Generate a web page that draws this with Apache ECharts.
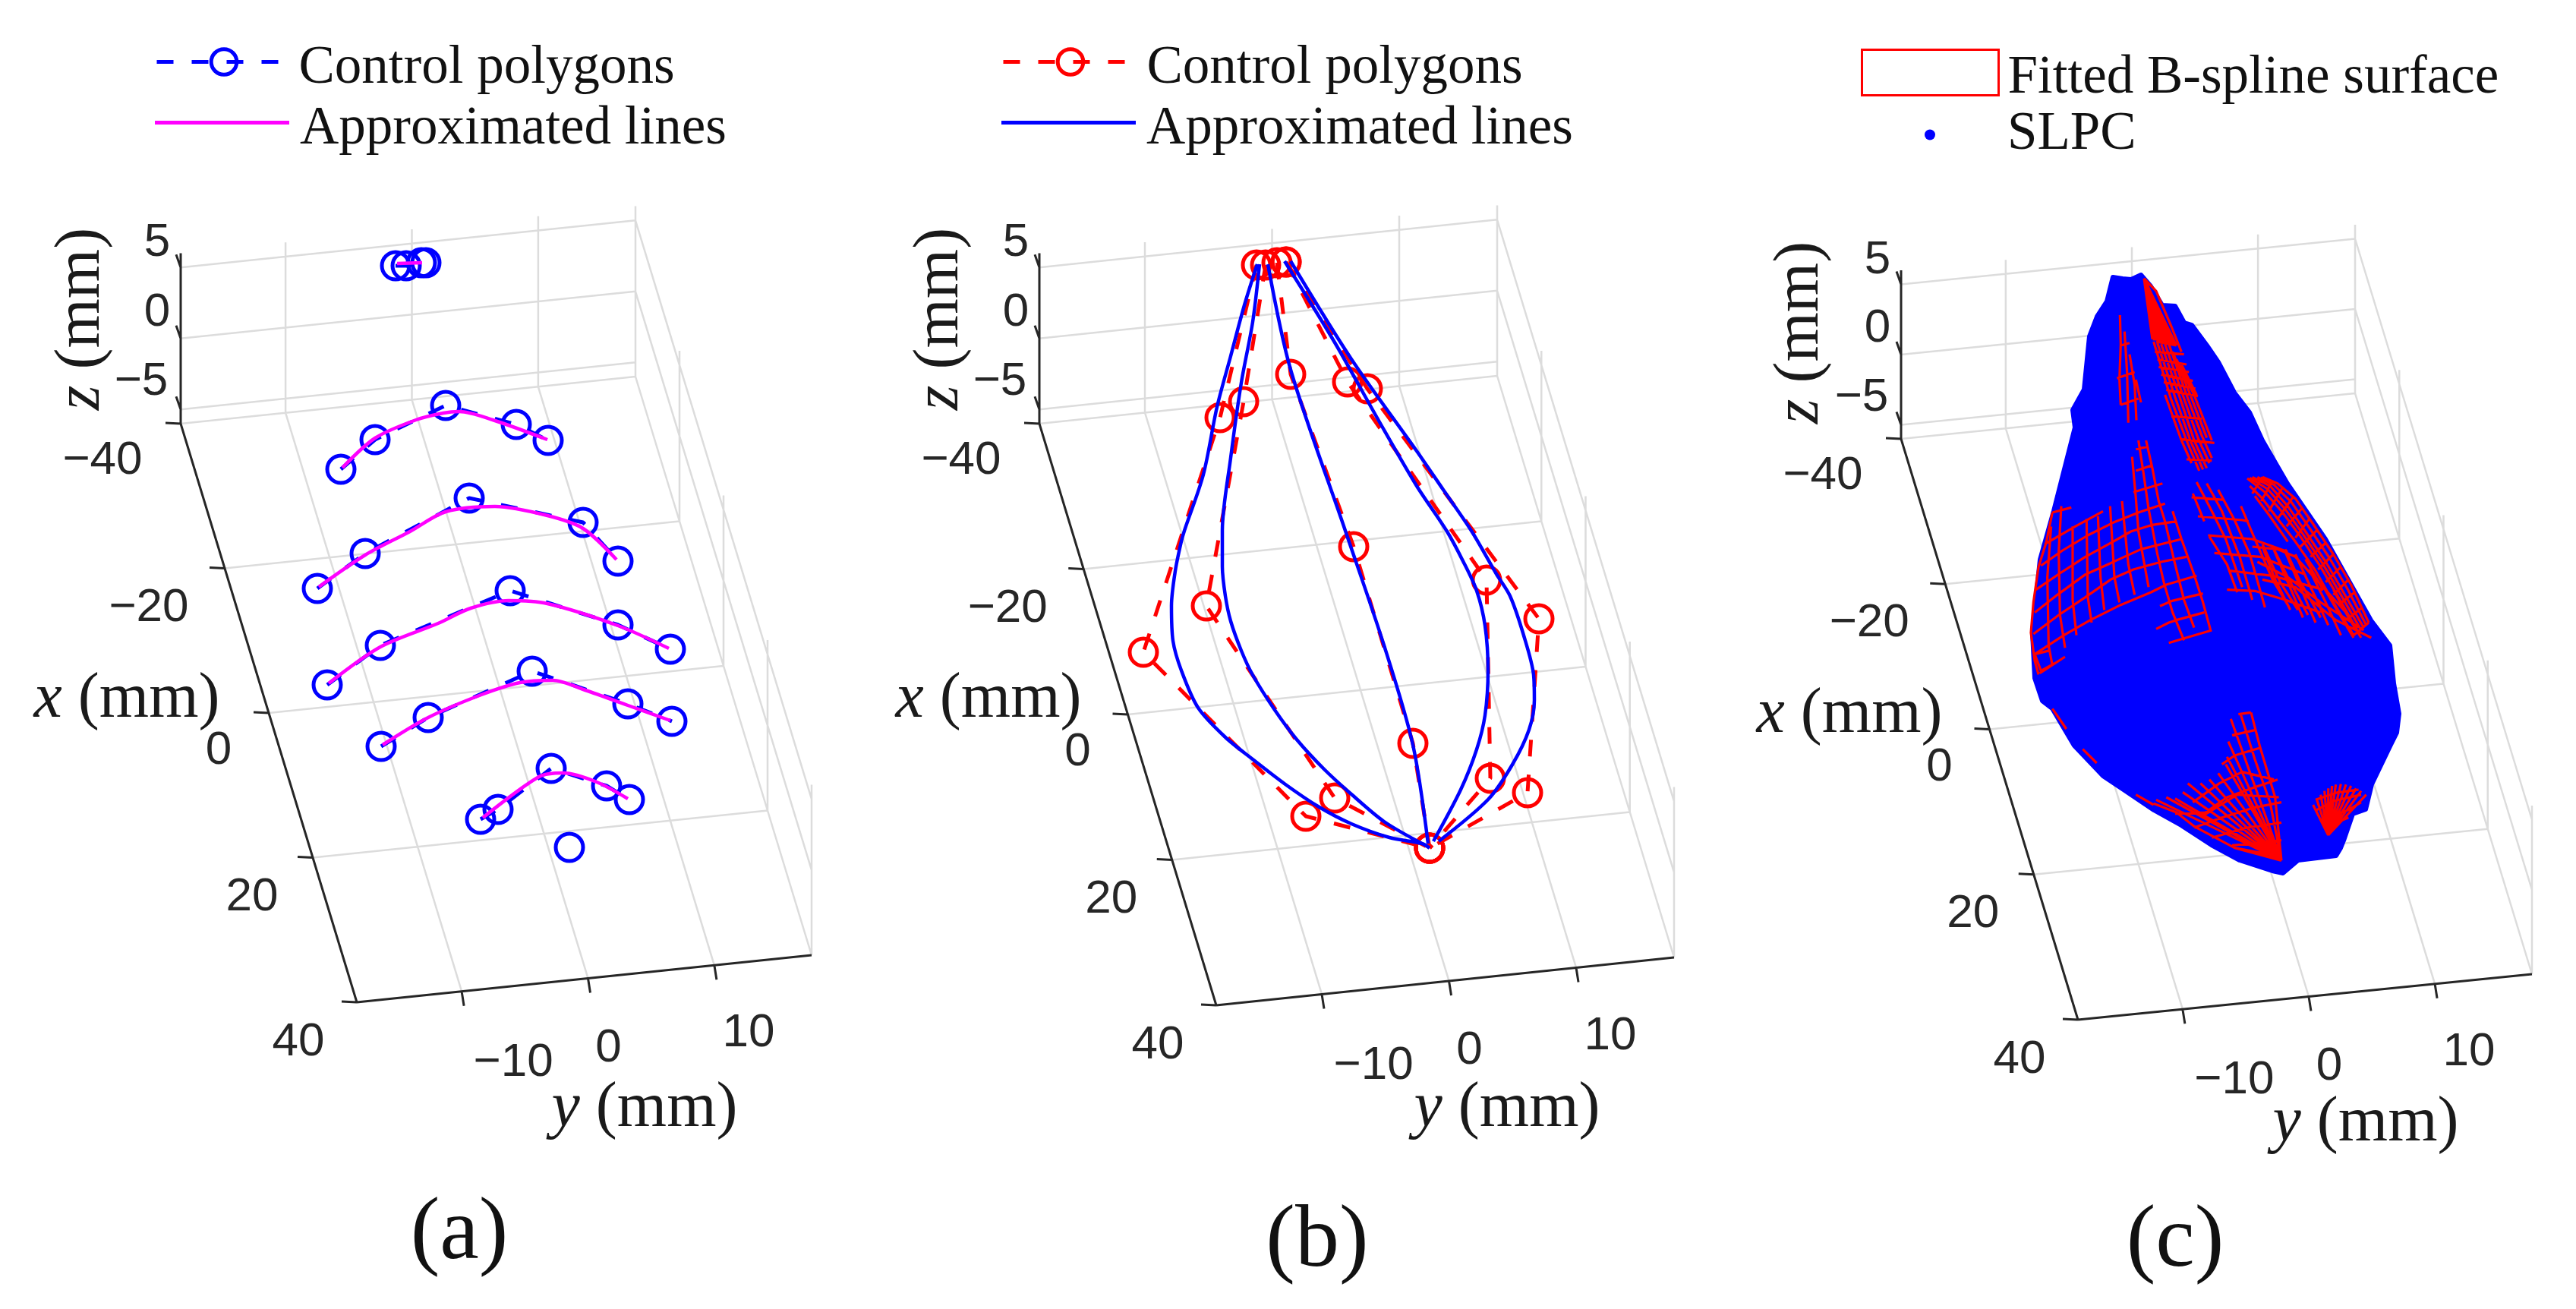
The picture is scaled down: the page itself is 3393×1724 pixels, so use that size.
<!DOCTYPE html>
<html><head><meta charset="utf-8">
<style>html,body{margin:0;padding:0;background:#fff}#c{width:3393px;height:1724px}</style>
<script src="https://cdn.jsdelivr.net/npm/echarts@6/dist/echarts.min.js"></script>
</head><body><div id="c"></div>
<script>
// ---- axis ticks (mm)
const xTicks = [-40, -20, 0, 20, 40];
const yTicks = [-10, 0, 10];
const zTicks = [-5, 0, 5];
const panelNames = ['(a)', '(b)', '(c)'];

// ---- panel (a): values read in the view plane of the panel
const polygonsA = [
  [[521,350],[535,350],[555,346],[561,346]],
  [[449,618],[494,579],[587,534],[680,559],[722,580]],
  [[418,775],[481,729],[618,656],[768,688],[814,739]],
  [[431,902],[501,850],[672,778],[814,823],[883,855]],
  [[502,983],[564,945],[701,884],[827,927],[885,950]],
  [[633,1079],[656,1066],[726,1012],[799,1035],[829,1053]],
  [[750,1116]]
];
const curvesA = [
  [[523,347],[556,346]],
  [[451,616],[494,577],[548,553],[584,544],[605,542],[649,553],[721,579]],
  [[420,773],[481,731],[540,700],[587,674],[652,667],[721,679],[768,696],[812,737]],
  [[433,900],[501,852],[577,821],[620,801],[670,791],[721,795],[814,824],[881,854]],
  [[504,981],[564,945],[634,915],[685,899],[728,896],[771,909],[827,929],[883,949]],
  [[636,1077],[710,1023],[742,1018],[786,1030],[827,1052]]
];

// ---- panel (b)
const polygonsB = [
  [[524,349],[476,550],[375,859],[589,1075],[752,1117]],
  [[536,349],[507,529],[458,798],[627,1051],[752,1117]],
  [[551,346],[569,493],[652,720],[730,979],[752,1117]],
  [[563,345],[644,503],[827,764],[832,1025],[752,1117]],
  [[563,345],[670,512],[896,815],[881,1044],[752,1117]]
];
const curvesB = [
  [[525,348],[508,402],[490,469],[472,536],[454,625],[429,699],[425,713],[417,752],[412,798],[414,844],[425,883],[447,932],[483,971],[519,1000],[562,1033],[605,1062],[649,1085],[699,1103],[742,1111],[752,1117]],
  [[528,348],[519,424],[504,504],[490,603],[479,699],[479,746],[483,785],[490,818],[504,857],[519,889],[548,935],[577,974],[613,1013],[649,1046],[692,1082],[742,1111]],
  [[539,348],[569,487],[641,699],[692,850],[730,981],[750,1111]],
  [[561,344],[627,451],[685,554],[735,640],[775,700],[796,739],[814,778],[825,824],[829,883],[825,942],[814,987],[793,1040],[757,1108]],
  [[569,344],[649,473],[735,594],[770,645],[807,699],[840,756],[858,785],[876,837],[889,889],[890,922],[883,961],[861,1007],[829,1053],[764,1108]]
];

// ---- panel (c): outline of the dense SLPC cloud
const slpcOutline = [
  [521,365],[534,367],[545,368],[558,362],[571,377],[586,402],[603,403],[615,425],[625,428],[645,455],[660,477],
  [681,517],[701,543],[718,580],[751,637],[801,710],[861,817],[886,850],[891,900],[898,940],[895,965],[887,981],
  [862,1033],[854,1066],[837,1072],[825,1107],[821,1117],[815,1127],[765,1133],[745,1150],[731,1147],[688,1133],
  [651,1113],[611,1087],[575,1067],[535,1040],[508,1022],[470,982],[441,933],[428,923],[418,893],[415,833],[425,737],
  [443,673],[471,563],[468,540],[483,513],[490,443],[500,417],[513,397]
];
const meshNarrow = [
  [[517,225],[520,340],[515,480],[520,580]],[[535,290],[545,450],[550,650]],[[555,380],[575,500],[582,640]],[[580,480],[600,570]],
  [[520,345],[555,335]],[[505,475],[575,450]],[[520,580],[590,555]]
];
const meshStripe = [
  [[612,80],[645,320]],[[612,80],[652,325]],[[612,80],[660,325]],[[612,80],[668,330]],[[612,80],[676,330]],[[612,80],[684,335]],
  [[612,80],[692,335]],[[612,80],[700,340]],[[612,80],[708,340]],[[612,80],[716,340]],[[612,80],[724,342]],[[612,80],[732,345]],[[612,80],[740,345]],
  [[612,80],[660,130],[720,270],[760,370]],
  [[660,330],[740,345]],[[655,370],[770,380]],[[665,400],[780,420]],[[670,430],[790,450]],[[680,460],[805,485]],[[690,490],[815,515]],[[700,520],[825,545]],
  [[720,625],[840,635]],[[755,715],[890,730]],[[780,795],[880,800]],
  [[650,330],[720,560],[780,720],[830,840]],[[665,335],[735,550],[795,720],[845,835]],[[680,340],[750,540],[810,720],[860,830]],[[695,340],[765,540],[825,710],[870,810]],
  [[710,340],[780,540],[840,700],[880,790]],[[725,370],[795,540],[860,710]],[[740,400],[810,540],[880,720]],[[695,540],[760,720],[800,810]],[[760,420],[820,540]]
];
const meshLeft = [
  [[130,345],[205,325]],
  [[100,470],[220,400],[330,340]],
  [[85,555],[170,495],[270,435],[370,385],[470,345],[575,310]],
  [[65,650],[160,585],[260,520],[370,460],[440,420],[520,395],[620,380]],
  [[60,740],[150,670],[260,590],[360,545],[480,490],[640,450]],
  [[55,825],[155,750],[260,680],[360,610],[450,570],[560,540],[660,520]],
  [[60,905],[175,830],[280,770],[400,710],[520,660],[580,630],[700,595]],
  [[80,980],[180,915]],
  [[600,695],[725,665]],[[555,715],[600,695]],[[620,770],[730,740]],[[590,860],[640,845],[760,810]],[[540,805],[590,780],[620,770]],
  [[450,265],[565,230]],[[460,180],[520,160]],[[460,95],[505,85]],
  [[130,345],[105,465],[75,560],[55,700],[45,820],[60,930],[75,985]],
  [[125,400],[110,600],[115,870],[130,950]],[[165,320],[155,500],[160,750],[180,880]],[[210,400],[210,690],[225,830]],
  [[265,370],[270,680],[285,780]],[[310,360],[320,600],[335,730]],[[358,320],[375,600],[395,700]],[[405,300],[430,550],[455,670]],
  [[445,125],[460,290],[470,420],[510,640]],
  [[470,60],[490,190],[510,330],[545,510],[570,620],[605,740],[650,850]],
  [[500,60],[525,170],[550,300],[575,380],[610,530],[650,690],[690,800]],
  [[605,340],[640,450],[690,590],[725,700],[755,810]]
];
const meshMiddle = [
  [[680,285],[810,295]],[[705,360],[880,375],[905,380]],[[745,435],[920,450],[1060,500]],[[770,505],[950,520],[1130,590]],[[830,575],[1000,595],[1200,650]],[[820,650],[930,655],[1050,690],[1190,740]],
  [[700,225],[760,340],[815,450],[880,640]],[[740,230],[800,340],[870,520],[920,690]],[[785,255],[850,375],[910,510],[970,720]],
  [[685,270],[730,380]],[[750,440],[820,550],[860,660]],[[875,320],[930,450],[1000,610],[1060,710]],[[960,470],[1030,620],[1100,730]],
  [[1000,480],[1060,600],[1140,750]],[[1050,490],[1110,620],[1190,760]],[[1090,510],[1150,640],[1200,740]],[[1130,530],[1200,650]]
];
const meshBand = [
  [[0,205],[60,230],[130,290],[200,390],[280,510],[350,630],[420,780]],
  [[-20,205],[45,235],[115,305],[185,405],[265,525],[335,645],[410,790]],
  [[-40,205],[30,240],[100,320],[170,420],[250,540],[320,660],[400,800]],
  [[-50,208],[20,252],[90,332],[160,430],[240,550],[310,670],[390,810]],
  [[-60,210],[10,265],[80,345],[150,440],[230,560],[300,680],[380,820]],
  [[-50,240],[0,290],[60,370],[130,460],[210,575],[280,700],[360,830]],
  [[-30,280],[30,360],[100,460]],
  [[0,205],[-40,270]],[[40,220],[-5,300]],[[80,245],[25,340]],[[120,285],[60,370]],[[155,330],[95,400]],[[185,370],[130,445]],[[215,415],[150,480]],
  [[250,465],[190,520]],[[280,510],[220,570]],[[310,560],[250,620]],[[340,610],[280,670]],[[365,660],[300,710]],[[395,720],[330,770]],[[420,780],[360,830]],
  [[-40,480],[60,490],[130,520],[240,640],[330,740]],[[0,610],[130,640],[290,770],[430,840]],[[-20,540],[100,600],[230,700],[400,810]],
  [[0,480],[50,610],[110,730]],[[40,480],[100,620],[160,760]],[[90,500],[150,640],[210,780]],[[135,520],[200,660],[260,790]],[[185,570],[250,700],[310,830]],[[230,620],[300,740],[360,840]],[[280,650],[340,760],[390,840]]
];
const fanApex = [1035,850];
const fanTips = [[540,610],[580,600],[615,605],[645,580],[665,545],[715,545],[750,530],[785,505],[815,470],[820,440],[825,380],[835,290]];
const meshFan = [
  [[875,275],[930,450],[990,620],[1035,850]],[[915,265],[950,400],[1010,600],[1035,850]],
  [[800,470],[850,435],[950,405]],[[685,620],[790,545],[880,500],[1005,530]],[[615,665],[735,660],[820,600],[930,560],[1020,530]],
  [[730,670],[860,590],[1025,600]],[[690,720],[800,680],[930,640],[1035,620]],[[760,760],[900,720],[1035,700]],[[840,790],[950,780],[1035,770]],
  [[840,355],[930,335]],[[865,272],[915,265]],
  [[530,625],[620,660],[690,715],[850,800],[1035,850]],[[850,800],[1035,835]],
  [[130,250],[185,330]],[[250,410],[305,465]],[[460,590],[530,630]],
  [[120,20],[60,35],[85,100],[140,70]]
];
const smallApex = [1220,750];
const smallTips = [[1160,630],[1175,610],[1190,590],[1205,575],[1220,565],[1235,555],[1250,550],[1270,548],[1290,550],[1310,555],[1330,565],[1350,575],[1370,590]];
const meshSmall = [
  [[1175,650],[1240,615],[1350,590]],[[1190,690],[1300,650],[1350,620]],[[1205,720],[1300,680]],[[1170,610],[1260,580],[1340,570]]
];

// ---- layout
const W = 1131, H = 1724;
const frames = [
  {left:0,    o:[238,558], xEnd:[470,1320], yEnd:[837,496], zs:18.7},
  {left:1131, o:[238,558], xEnd:[471,1324], yEnd:[841,495], zs:18.7},
  {left:2262, o:[242,578], xEnd:[475,1343], yEnd:[840,518], zs:18.5}
];
const titlePos = [
  {z:[108,420], x:[167,922], y:[849,1461], p:[605,1627]},
  {z:[108,420], x:[171,922], y:[854,1461], p:[604,1637]},
  {z:[110,438], x:[174,942], y:[854,1480], p:[603,1637]}
];
const xLblOff = [[-103,49],[-100,52],[-66,50],[-80,52],[-77,53]];
const yLblOff = [[68,94],[27,92],[45,90]];
const zLblOff = [[-52,-36],[-31,-34],[-31,-32]];
const Y0 = -18.3, Y1 = 17.7, Z0 = -6, Z1 = 6;

function proj(f, x, y, z) {
  const t = (x + 40) / 80, s = (y - Y0) / (Y1 - Y0), u = z - Z0;
  return [f.o[0] + t * (f.xEnd[0] - f.o[0]) + s * (f.yEnd[0] - f.o[0]),
          f.o[1] + t * (f.xEnd[1] - f.o[1]) + s * (f.yEnd[1] - f.o[1]) - u * f.zs];
}
const BR = ['-', '-'];
function breaks(lines) { const out = []; lines.forEach(l => { out.push(...l, BR); }); return out; }
function at(ox, oy, lines) { return lines.map(l => l.map(p => [ox + p[0] / 3, oy + p[1] / 3])); }

function grayLines(f) {
  const L = [], seg = (a, b) => L.push([proj(f, ...a), proj(f, ...b)]);
  yTicks.concat([Y1]).forEach(y => { seg([-40,y,Z0],[-40,y,Z1]); });
  yTicks.forEach(y => { seg([-40,y,Z0],[40,y,Z0]); });
  zTicks.forEach(z => { seg([-40,Y0,z],[-40,Y1,z]); });
  seg([-40,Y0,Z0],[-40,Y1,Z0]);
  [-20,0,20].forEach(x => { seg([x,Y0,Z0],[x,Y1,Z0]); seg([x,Y1,Z0],[x,Y1,Z1]); });
  seg([40,Y1,Z0],[40,Y1,Z1]);
  seg([-40,Y1,Z0],[40,Y1,Z0]); seg([-40,Y1,0],[40,Y1,0]); seg([-40,Y1,5],[40,Y1,5]);
  return L;
}
function blackLines(f) {
  const P = (x,y,z) => proj(f,x,y,z);
  const L = [[P(-40,Y0,Z0),P(-40,Y0,Z1)],[P(-40,Y0,Z0),P(40,Y0,Z0)],[P(40,Y0,Z0),P(40,Y1,Z0)]];
  const off = (p,d) => [p[0]+d[0],p[1]+d[1]];
  zTicks.forEach(z => { const p=P(-40,Y0,z); L.push([p,off(p,[-6,-17])]); });
  xTicks.forEach(x => { const p=P(x,Y0,Z0); L.push([p,off(p,[-20,-1])]); });
  yTicks.forEach(y => { const p=P(40,y,Z0); L.push([p,off(p,[3,19])]); });
  return L;
}
const tickFont = {fontFamily:'Liberation Sans', fontSize:62, color:'#262626', position:'inside', align:'center', verticalAlign:'middle', show:true, formatter:'{b}'};
const minus = v => String(v).replace('-', '\u2212');
function textItems(i) {
  const f = frames[i], T = titlePos[i], out = [];
  const put = (name, pos, lab) => out.push({name, value:pos, label:Object.assign({}, tickFont, lab)});
  xTicks.forEach((v,k) => { const p=proj(f,v,Y0,Z0); put(minus(v), [p[0]+xLblOff[k][0], p[1]+xLblOff[k][1]], {}); });
  yTicks.forEach((v,k) => { const p=proj(f,40,v,Z0); put(minus(v), [p[0]+yLblOff[k][0], p[1]+yLblOff[k][1]], {}); });
  zTicks.forEach((v,k) => { const p=proj(f,-40,Y0,v); put(minus(v), [p[0]+zLblOff[k][0], p[1]+zLblOff[k][1]], {}); });
  const rich = {i:{fontFamily:'Liberation Serif',fontStyle:'italic',fontSize:84,color:'#1a1a1a'}, r:{fontFamily:'Liberation Serif',fontSize:84,color:'#1a1a1a'}};
  const title = (a, pos, rot) => put(a+' (mm)', pos, {formatter:'{i|'+a+'}{r| (mm)}', rich, rotate:rot, fontFamily:'Liberation Serif', fontSize:84});
  title('x', T.x, 0); title('y', T.y, 0); title('z', T.z, 90);
  put(panelNames[i], T.p, {fontFamily:'Liberation Serif', fontSize:116, color:'#111'});
  return out;
}

const series = [];
const onGrid = i => ({xAxisIndex:i, yAxisIndex:i});
const plainLine = (i, o) => Object.assign({type:'line', symbol:'none', clip:false, silent:true, animation:false, connectNulls:false}, onGrid(i), o);

frames.forEach((f,i) => {
  series.push(plainLine(i, {name:'frame '+i, z:1, data:breaks(grayLines(f)), lineStyle:{color:'#dcdcdc', width:2.5}}));
  series.push(plainLine(i, {name:'axes '+i, z:2, data:breaks(blackLines(f)), lineStyle:{color:'#262626', width:3}}));
});

// panel a
series.push(plainLine(0, {name:'Control polygons a', z:3, data:breaks(polygonsA), symbol:'circle', symbolSize:36,
  itemStyle:{color:'transparent', borderColor:'#0000ff', borderWidth:5}, lineStyle:{color:'#0000ff', width:5, type:[22,24]}}));
series.push(plainLine(0, {name:'Approximated lines a', z:4, data:breaks(curvesA), smooth:0.3, lineStyle:{color:'#ff00ff', width:4.5}, itemStyle:{color:'#ff00ff'}}));
// panel b
series.push(plainLine(1, {name:'Control polygons b', z:3, data:breaks(polygonsB), symbol:'circle', symbolSize:36,
  itemStyle:{color:'transparent', borderColor:'#ff0000', borderWidth:5}, lineStyle:{color:'#ff0000', width:5, type:[22,24]}}));
series.push(plainLine(1, {name:'Approximated lines b', z:4, data:breaks(curvesB), smooth:0.3, lineStyle:{color:'#0000ff', width:4.5}, itemStyle:{color:'#0000ff'}}));
// panel c
series.push({type:'custom', name:'SLPC', coordinateSystem:'cartesian2d', xAxisIndex:2, yAxisIndex:2, z:3, silent:true, animation:false, clip:false,
  data:slpcOutline, encode:{x:0,y:1}, itemStyle:{color:'#0000ff'},
  renderItem:(p, api) => p.dataIndex === 0 ? {type:'polygon', shape:{points:slpcOutline.map(q => api.coord(q))}, style:{fill:'#0000ff', stroke:'#0000ff', lineWidth:6, lineJoin:'round'}} : null});
const meshAll = [].concat(
  at(358,340,meshNarrow), at(358,340,meshStripe), at(398,560,meshLeft), at(398,560,meshMiddle), at(718,560,meshBand),
  at(398,850,meshFan), at(398,850,fanTips.map(t=>[fanApex,t])), at(398,850,meshSmall), at(398,850,smallTips.map(t=>[smallApex,t])));
series.push(plainLine(2, {name:'Fitted B-spline surface', z:4, data:breaks(meshAll), lineStyle:{color:'#ff0000', width:3.2}, itemStyle:{color:'#ff0000'}}));

frames.forEach((f,i) => series.push({type:'scatter', name:'text '+i, ...onGrid(i), z:6, symbolSize:0, silent:true, animation:false, clip:false, itemStyle:{opacity:1}, data:textItems(i)}));

const legendStrip = n => '{s|' + n.replace(/ [ab]$/, '') + '}';
const legendRow = (left, cy, name, drop, textLeft, extra) => Object.assign({
  left, top:cy-(80+drop)/2, selectedMode:false, padding:0, itemWidth:177, itemHeight:42, formatter:legendStrip,
  lineStyle:{width:5}, itemStyle:{borderWidth:5},
  textStyle:{padding:[0,0,0,textLeft], rich:{s:{fontFamily:'Liberation Serif', fontSize:71, color:'#111', lineHeight:80, padding:[drop,0,0,0]}}},
  data:[name]}, extra||{});
const solidIcon = (name,color) => [{name, icon:'rect', itemStyle:{color, borderWidth:0}}];
const chart = echarts.init(document.getElementById('c'), null, {renderer:'canvas'});
chart.setOption({
  backgroundColor:'#fff', animation:false,
  grid: frames.map(f => ({left:f.left, width:W, top:0, height:H, containLabel:false})),
  xAxis: frames.map((f,i) => ({type:'value', gridIndex:i, min:0, max:W, show:false})),
  yAxis: frames.map((f,i) => ({type:'value', gridIndex:i, min:0, max:H, inverse:true, show:false})),
  legend:[
    legendRow(204, 86, 'Control polygons a', 18, 5),
    legendRow(204, 166, 'Approximated lines a', 18, 9, {itemHeight:5, data:solidIcon('Approximated lines a','#ff00ff')}),
    legendRow(1319, 86, 'Control polygons b', 18, 7),
    legendRow(1319, 166, 'Approximated lines b', 18, 9, {itemHeight:5, data:solidIcon('Approximated lines b','#0000ff')}),
    legendRow(2451, 100, 'Fitted B-spline surface', 16, 7, {itemWidth:180, itemHeight:60,
      data:[{name:'Fitted B-spline surface', icon:'rect', itemStyle:{color:'#fff', borderColor:'#ff0000', borderWidth:3}}]}),
    legendRow(2535, 182, 'SLPC', 0, 90, {itemWidth:14, itemHeight:14,
      data:[{name:'SLPC', icon:'circle', itemStyle:{color:'#0000ff', borderWidth:0}}]})
  ],
  series
});
</script></body></html>
